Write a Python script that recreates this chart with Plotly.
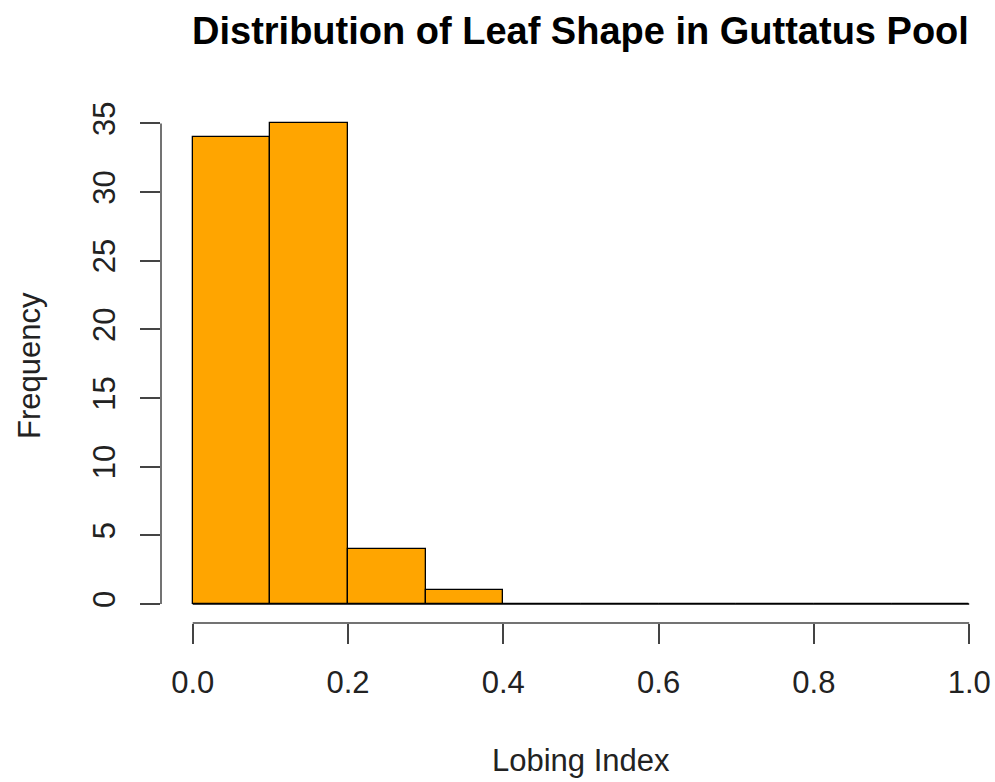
import plotly.graph_objects as go

# Data
bin_edges = [0.0, 0.1, 0.2, 0.3, 0.4, 0.5, 0.6, 0.7, 0.8, 0.9, 1.0]
counts = [34, 35, 4, 1, 0, 0, 0, 0, 0, 0]
x_ticks = [0.0, 0.2, 0.4, 0.6, 0.8, 1.0]
x_tick_labels = ["0.0", "0.2", "0.4", "0.6", "0.8", "1.0"]
y_ticks = [0, 5, 10, 15, 20, 25, 30, 35]
y_tick_labels = ["0", "5", "10", "15", "20", "25", "30", "35"]

title = "Distribution of Leaf Shape in Guttatus Pool"
x_title = "Lobing Index"
y_title = "Frequency"

centers = [(a + b) / 2 for a, b in zip(bin_edges[:-1], bin_edges[1:])]
widths = [b - a for a, b in zip(bin_edges[:-1], bin_edges[1:])]

W, H = 995, 782
L, R, T, B = 161, 985, 100, 623
px_per_x = 776.5
x0_px = 192.7
px_per_y = 13.73
y0_px = 604

xr = [-(x0_px - L) / px_per_x, (R - x0_px) / px_per_x]
yr = [-(B - y0_px) / px_per_y, (y0_px - T) / px_per_y]

FONT = "Liberation Sans, Arial, Helvetica, sans-serif"
AXCOL = "#444444"

fig = go.Figure()
fig.add_trace(go.Scatter(
    x=[bin_edges[0], bin_edges[-1]], y=[0, 0], mode="lines",
    line=dict(color="black", width=1.3), hoverinfo="skip", showlegend=False))
fig.add_trace(go.Bar(
    x=centers, y=counts, width=widths,
    marker=dict(color="#FFA500", line=dict(color="black", width=1.3)),
    showlegend=False))

fig.add_shape(type="line", xref="x", yref="paper",
              x0=x_ticks[0], x1=x_ticks[-1], y0=0, y1=0,
              line=dict(color=AXCOL, width=1.5))
fig.add_shape(type="line", xref="paper", yref="y",
              x0=0, x1=0, y0=y_ticks[0], y1=y_ticks[-1],
              line=dict(color=AXCOL, width=1.5))

plot_w = R - L
plot_h = B - T
cx = (x0_px + px_per_x / 2 - L) / plot_w

fig.add_annotation(text=f"<b>{title}</b>", xref="paper", yref="paper",
                   x=cx, y=(B - 31) / plot_h, xanchor="center", yanchor="middle",
                   showarrow=False, font=dict(family=FONT, size=38, color="black"))
fig.add_annotation(text=x_title, xref="paper", yref="paper",
                   x=cx, y=(B - 760) / plot_h, xanchor="center", yanchor="middle",
                   showarrow=False, font=dict(family=FONT, size=31, color="#222222"))
fig.add_annotation(text=y_title, xref="paper", yref="paper",
                   x=(30 - L) / plot_w, y=(B - 366) / plot_h, xanchor="center",
                   yanchor="middle", textangle=-90,
                   showarrow=False, font=dict(family=FONT, size=31, color="#222222"))

fig.update_layout(
    width=W, height=H,
    margin=dict(l=L, r=W - R, t=T, b=H - B, autoexpand=False),
    paper_bgcolor="white", plot_bgcolor="white",
    bargap=0,
    xaxis=dict(range=xr, tickvals=x_ticks, ticktext=x_tick_labels,
               ticks="outside", ticklen=20, tickwidth=1.5, tickcolor=AXCOL,
               showgrid=False, zeroline=False, showline=False,
               ticklabelstandoff=12, automargin=False,
               tickfont=dict(family=FONT, size=31, color="#222222")),
    yaxis=dict(range=yr, tickvals=y_ticks, ticktext=y_tick_labels,
               ticks="outside", ticklen=20, tickwidth=1.5, tickcolor=AXCOL,
               showgrid=False, zeroline=False, showline=False,
               tickangle=-90, ticklabelstandoff=13, automargin=False,
               tickfont=dict(family=FONT, size=31, color="#222222")),
)

fig.write_html("out.html")
